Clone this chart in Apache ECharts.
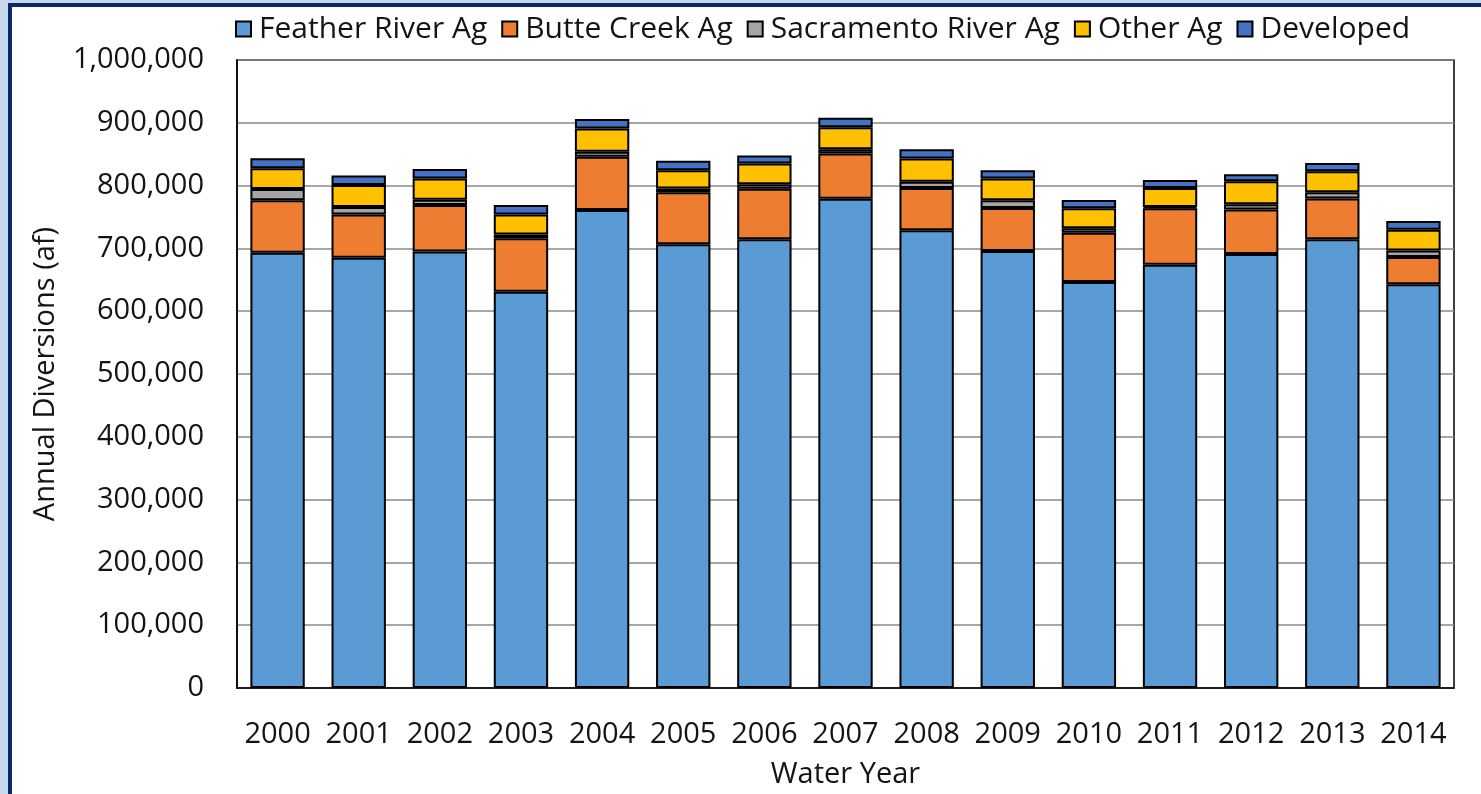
<!DOCTYPE html>
<html>
<head>
<meta charset="utf-8">
<script src="https://cdn.jsdelivr.net/npm/echarts@6/dist/echarts.min.js"></script>
<style>
  html, body { margin: 0; padding: 0; width: 1481px; height: 794px; overflow: hidden; background: #c6d9eb; }
  #panel { position: absolute; left: 8px; top: 3px; width: 1473px; height: 791px; background: #fff;
           border-left: 4px solid #0c2869; border-top: 4px solid #0c2869; box-sizing: border-box; }
  #chart { position: absolute; left: 0; top: 0; width: 1481px; height: 794px; }
</style>
</head>
<body>
<div id="panel"></div>
<div id="chart"></div>
<script>
// Annual diversions by water year (acre-feet)
const years = ['2000','2001','2002','2003','2004','2005','2006','2007','2008','2009','2010','2011','2012','2013','2014'];
const featherRiverAg    = [693000, 685000, 695000, 631000, 761000, 706500, 714500, 779000, 729000, 696000, 646500, 674000, 691000, 714500, 643000];
const butteCreekAg      = [ 83500,  69000,  74000,  85000,  85000,  83000,  80500,  72000,  67000,  68500,  78500,  90000,  71000,  65000,  43500];
const sacramentoRiverAg = [ 18000,  12000,   8500,   6000,   8000,   6000,   7000,   7000,  10000,  12000,   7000,   2000,   8500,  10000,  10000];
const otherAg           = [ 33000,  35000,  34000,  32000,  37000,  29000,  33000,  35000,  37000,  35000,  32000,  30000,  36500,  33500,  33000];
const developed         = [ 16000,  15000,  15000,  15000,  15000,  15000,  13000,  15000,  15000,  13000,  13000,  13000,  11000,  13000,  14000];
const yTicks = { min: 0, max: 1000000, step: 100000 };

const font = '"Open Sans", "Noto Sans", sans-serif';
const fs = 29;
const ink = '#141414';
const series = [
  ['Feather River Ag', featherRiverAg, '#5b9bd5'],
  ['Butte Creek Ag', butteCreekAg, '#ed7d31'],
  ['Sacramento River Ag', sacramentoRiverAg, '#a5a5a5'],
  ['Other Ag', otherAg, '#ffc000'],
  ['Developed', developed, '#4472c4']
].map(([name, data, color]) => ({
  name, type: 'bar', stack: 'total', data,
  barCategoryGap: '33%',
  itemStyle: { color, borderColor: '#000', borderWidth: 2 },
  emphasis: { disabled: true }
}));

const chart = echarts.init(document.getElementById('chart'), null, { renderer: 'canvas' });
chart.setOption({
  backgroundColor: 'transparent',
  animation: false,
  textStyle: { fontFamily: font },
  legend: {
    top: 9, left: 230,
    itemWidth: 15, itemHeight: 15, itemGap: 14,
    icon: 'rect',
    textStyle: { fontSize: 30, color: ink, fontFamily: font, padding: [0, 0, 0, 3] },
    data: series.map(s => s.name)
  },
  grid: {
    left: 237, right: 27, top: 60, bottom: 106,
    show: true, borderColor: '#000', borderWidth: 1.5, backgroundColor: 'transparent'
  },
  xAxis: {
    type: 'category', data: years,
    name: 'Water Year', nameLocation: 'middle', nameGap: 72,
    nameTextStyle: { fontSize: fs, color: ink, fontFamily: font },
    axisLine: { lineStyle: { color: '#000', width: 1.5 } },
    axisTick: { show: false },
    axisLabel: { interval: 0, fontSize: fs, color: ink, margin: 32, fontFamily: font }
  },
  yAxis: {
    type: 'value', min: yTicks.min, max: yTicks.max, interval: yTicks.step,
    name: 'Annual Diversions (af)', nameLocation: 'middle', nameGap: 177,
    nameTextStyle: { fontSize: fs, color: ink, fontFamily: font },
    axisLine: { show: true, lineStyle: { color: '#000', width: 1.5 } },
    axisTick: { show: false },
    axisLabel: { fontSize: fs, color: ink, margin: 33, fontFamily: font,
                 formatter: v => v.toLocaleString('en-US') },
    splitLine: { lineStyle: { color: '#8a8a8a', width: 1.5 } }
  },
  series
});
</script>
</body>
</html>
